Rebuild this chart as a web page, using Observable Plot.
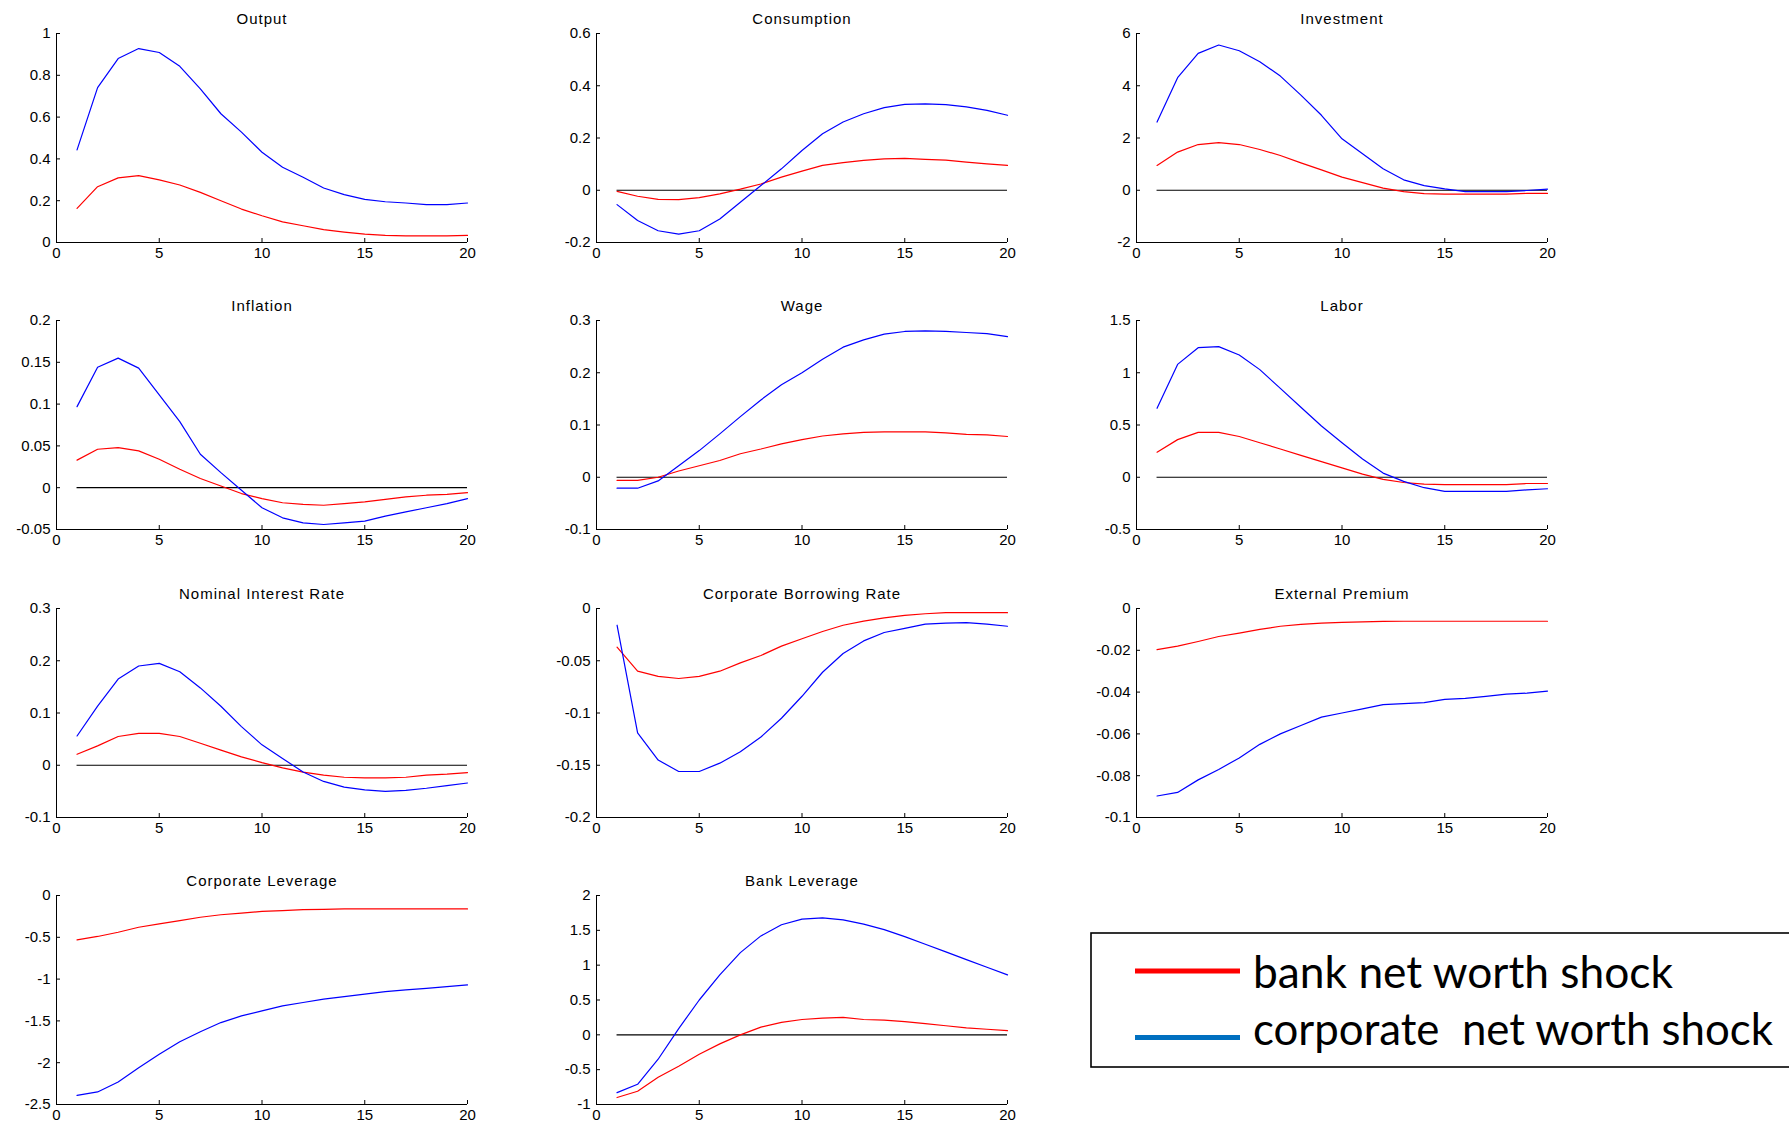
<!DOCTYPE html>
<html><head><meta charset="utf-8">
<script src="https://cdn.jsdelivr.net/npm/d3@7"></script>
<script src="https://cdn.jsdelivr.net/npm/@observablehq/plot@0.6"></script>
<style>
html,body{margin:0;padding:0;background:#fff;}
#root{position:relative;width:1789px;height:1122px;overflow:hidden;background:#fff;}
.panel{position:absolute;}
#legend{position:absolute;left:1090px;top:932px;overflow:hidden;}
</style></head>
<body><div id="root"></div>
<script>
// ---- data ----
const periods = [1,2,3,4,5,6,7,8,9,10,11,12,13,14,15,16,17,18,19,20];
const xTicks = [0,5,10,15,20];
const seriesNames = ["bank net worth shock", "corporate  net worth shock"];
const seriesColors = ["#ff0000", "#0000ff"];
const legendColors = ["#ff0000", "#0070c0"];

const titles = ["Output","Consumption","Investment","Inflation","Wage","Labor",
  "Nominal Interest Rate","Corporate Borrowing Rate","External Premium","Corporate Leverage","Bank Leverage"];

const outputBank = [0.163,0.267,0.309,0.320,0.300,0.275,0.240,0.200,0.160,0.128,0.099,0.080,0.062,0.050,0.040,0.034,0.032,0.032,0.032,0.034];
const outputCorp = [0.443,0.741,0.880,0.928,0.909,0.843,0.735,0.616,0.528,0.432,0.360,0.312,0.261,0.229,0.206,0.195,0.189,0.181,0.181,0.189];

const consBank = [-0.004,-0.023,-0.035,-0.036,-0.028,-0.014,0.004,0.024,0.050,0.073,0.095,0.106,0.114,0.120,0.122,0.118,0.115,0.108,0.101,0.095];
const consCorp = [-0.055,-0.116,-0.155,-0.168,-0.155,-0.110,-0.046,0.018,0.082,0.152,0.216,0.261,0.293,0.316,0.329,0.331,0.328,0.319,0.306,0.287];

const invBank = [0.95,1.46,1.75,1.82,1.75,1.56,1.33,1.05,0.78,0.50,0.29,0.08,-0.05,-0.13,-0.15,-0.15,-0.15,-0.15,-0.12,-0.12];
const invCorp = [2.61,4.31,5.24,5.56,5.34,4.92,4.37,3.64,2.87,1.97,1.40,0.82,0.40,0.18,0.05,-0.05,-0.05,-0.05,-0.01,0.04];

const inflBank = [0.033,0.046,0.048,0.044,0.034,0.022,0.011,0.002,-0.007,-0.013,-0.018,-0.020,-0.021,-0.019,-0.017,-0.014,-0.011,-0.009,-0.008,-0.006];
const inflCorp = [0.097,0.144,0.155,0.143,0.111,0.079,0.040,0.018,-0.003,-0.024,-0.036,-0.042,-0.044,-0.042,-0.040,-0.034,-0.029,-0.024,-0.019,-0.013];

const wageBank = [-0.006,-0.006,0.000,0.012,0.022,0.032,0.045,0.054,0.064,0.072,0.079,0.083,0.086,0.087,0.087,0.087,0.085,0.082,0.081,0.078];
const wageCorp = [-0.021,-0.021,-0.007,0.022,0.051,0.083,0.116,0.148,0.177,0.200,0.226,0.249,0.263,0.274,0.279,0.280,0.279,0.277,0.275,0.269];

const laborBank = [0.24,0.36,0.43,0.43,0.39,0.33,0.27,0.21,0.15,0.09,0.03,-0.02,-0.05,-0.065,-0.07,-0.07,-0.07,-0.07,-0.06,-0.06];
const laborCorp = [0.66,1.08,1.24,1.25,1.17,1.03,0.85,0.67,0.49,0.33,0.175,0.04,-0.04,-0.10,-0.136,-0.136,-0.136,-0.136,-0.12,-0.11];

const rateBank = [0.021,0.037,0.055,0.061,0.061,0.055,0.042,0.029,0.016,0.005,-0.005,-0.013,-0.019,-0.023,-0.024,-0.024,-0.023,-0.019,-0.017,-0.014];
const rateCorp = [0.056,0.113,0.165,0.190,0.195,0.179,0.148,0.113,0.074,0.039,0.013,-0.013,-0.031,-0.042,-0.047,-0.050,-0.048,-0.044,-0.039,-0.034];

const cbrBank = [-0.037,-0.060,-0.065,-0.067,-0.065,-0.060,-0.052,-0.045,-0.036,-0.029,-0.022,-0.016,-0.012,-0.009,-0.0065,-0.005,-0.004,-0.004,-0.004,-0.004];
const cbrCorp = [-0.016,-0.119,-0.145,-0.156,-0.156,-0.148,-0.137,-0.123,-0.105,-0.084,-0.061,-0.043,-0.031,-0.023,-0.019,-0.015,-0.014,-0.0135,-0.015,-0.017];

const extBank = [-0.0197,-0.018,-0.0158,-0.0134,-0.0118,-0.0100,-0.0085,-0.0076,-0.0070,-0.0066,-0.0064,-0.0062,-0.0061,-0.0061,-0.0061,-0.0061,-0.0061,-0.0061,-0.0061,-0.0061];
const extCorp = [-0.0897,-0.088,-0.082,-0.077,-0.0715,-0.065,-0.060,-0.056,-0.052,-0.050,-0.048,-0.046,-0.0455,-0.045,-0.0435,-0.043,-0.042,-0.041,-0.0405,-0.0395];

const clevBank = [-0.53,-0.49,-0.44,-0.38,-0.34,-0.30,-0.26,-0.23,-0.21,-0.19,-0.18,-0.17,-0.165,-0.16,-0.16,-0.16,-0.16,-0.16,-0.16,-0.16];
const clevCorp = [-2.39,-2.35,-2.23,-2.06,-1.90,-1.75,-1.63,-1.52,-1.44,-1.38,-1.32,-1.28,-1.24,-1.21,-1.18,-1.15,-1.13,-1.11,-1.09,-1.07];

const blevBank = [-0.90,-0.81,-0.61,-0.45,-0.28,-0.13,0.00,0.11,0.18,0.22,0.24,0.25,0.22,0.21,0.19,0.16,0.13,0.10,0.08,0.06];
const blevCorp = [-0.83,-0.71,-0.35,0.09,0.50,0.86,1.18,1.42,1.58,1.66,1.68,1.65,1.59,1.51,1.41,1.30,1.19,1.08,0.97,0.86];

const yTickSets = [
  [0,0.2,0.4,0.6,0.8,1],
  [-0.2,0,0.2,0.4,0.6],
  [-2,0,2,4,6],
  [-0.05,0,0.05,0.1,0.15,0.2],
  [-0.1,0,0.1,0.2,0.3],
  [-0.5,0,0.5,1,1.5],
  [-0.1,0,0.1,0.2,0.3],
  [-0.2,-0.15,-0.1,-0.05,0],
  [-0.1,-0.08,-0.06,-0.04,-0.02,0],
  [-2.5,-2,-1.5,-1,-0.5,0],
  [-1,-0.5,0,0.5,1,1.5,2]
];
const bankSeries = [outputBank,consBank,invBank,inflBank,wageBank,laborBank,rateBank,cbrBank,extBank,clevBank,blevBank];
const corpSeries = [outputCorp,consCorp,invCorp,inflCorp,wageCorp,laborCorp,rateCorp,cbrCorp,extCorp,clevCorp,blevCorp];
const showZero = [false,true,true,true,true,true,true,false,false,false,true];

// ---- drawing ----
const root = document.getElementById("root");
const font = "'Liberation Sans', Arial, sans-serif";

titles.forEach((title, i) => {
  const col = i % 3, row = Math.floor(i / 3);
  const ticks = yTickSets[i];
  const ymin = d3.min(ticks), ymax = d3.max(ticks);
  const rowsB = periods.map((t, j) => ({t, v: bankSeries[i][j]}));
  const rowsC = periods.map((t, j) => ({t, v: corpSeries[i][j]}));
  const marks = [
    Plot.ruleX([xTicks[0]], {stroke: "#000", strokeWidth: 1}),
    Plot.ruleY([ymin], {stroke: "#000", strokeWidth: 1}),
    Plot.axisX({ticks: xTicks, tickSize: -4, tickPadding: 9, tickFormat: d => String(d), fontSize: 15, label: null}),
    Plot.axisY({ticks: ticks, tickSize: -4, tickPadding: 10, tickFormat: d => String(d), fontSize: 15, label: null})
  ];
  if (showZero[i]) marks.push(Plot.ruleY([0], {x1: periods[0], x2: periods[periods.length - 1], stroke: "#000", strokeWidth: 1.2}));
  marks.push(
    Plot.line(rowsB, {x: "t", y: "v", stroke: seriesColors[0], strokeWidth: 1.2}),
    Plot.line(rowsC, {x: "t", y: "v", stroke: seriesColors[1], strokeWidth: 1.2}),
    Plot.text([title], {frameAnchor: "top", dy: -20, fontSize: 15, fill: "#000"})
  );
  const chart = Plot.plot({
    width: 540, height: 272,
    marginLeft: 56, marginRight: 73, marginTop: 33, marginBottom: 30,
    x: {domain: [xTicks[0], xTicks[xTicks.length - 1]], label: null},
    y: {domain: [ymin, ymax], label: null},
    style: {fontFamily: font, color: "#000", background: "transparent", overflow: "visible"},
    marks
  });
  const textGroups = chart.querySelectorAll('g[aria-label="text"]');
  if (textGroups.length) textGroups[textGroups.length - 1].style.letterSpacing = "1px";
  chart.classList.add("panel");
  chart.style.left = (col * 540) + "px";
  chart.style.top = Math.round(row * 287.3) + "px";
  root.appendChild(chart);
});

// ---- legend ----
const ns = "http://www.w3.org/2000/svg";
const lg = document.createElementNS(ns, "svg");
lg.setAttribute("id", "legend");
lg.setAttribute("width", 699);
lg.setAttribute("height", 138);
const rect = document.createElementNS(ns, "rect");
rect.setAttribute("x", 1); rect.setAttribute("y", 1);
rect.setAttribute("width", 760); rect.setAttribute("height", 134);
rect.setAttribute("fill", "none"); rect.setAttribute("stroke", "#000"); rect.setAttribute("stroke-width", 1.6);
lg.appendChild(rect);
const lineYs = [39, 105.5], baseYs = [56, 113], widths = [420, 520];
seriesNames.forEach((name, k) => {
  const ln = document.createElementNS(ns, "line");
  ln.setAttribute("x1", 45); ln.setAttribute("x2", 150);
  ln.setAttribute("y1", lineYs[k]); ln.setAttribute("y2", lineYs[k]);
  ln.setAttribute("stroke", legendColors[k]); ln.setAttribute("stroke-width", 5);
  lg.appendChild(ln);
  const tx = document.createElementNS(ns, "text");
  tx.setAttribute("x", 163); tx.setAttribute("y", baseYs[k]);
  tx.setAttribute("font-family", "Lato, 'Open Sans', sans-serif");
  tx.setAttribute("font-size", 44);
  tx.setAttribute("textLength", widths[k]);
  tx.setAttribute("lengthAdjust", "spacingAndGlyphs");
  tx.setAttribute("style", "white-space:pre");
  tx.setAttribute("xml:space", "preserve");
  tx.textContent = name;
  lg.appendChild(tx);
});
root.appendChild(lg);
</script>
</body></html>
